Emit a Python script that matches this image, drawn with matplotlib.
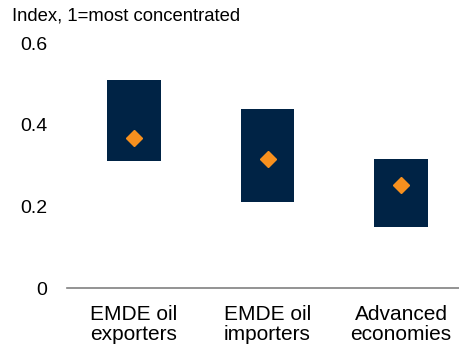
import matplotlib.pyplot as plt
import numpy as np

plt.rcParams['font.family'] = ['Liberation Sans', 'DejaVu Sans']

categories = ['EMDE oil\nexporters', 'EMDE oil\nimporters', 'Advanced\neconomies']
range_low = [0.313, 0.211, 0.150]
range_high = [0.510, 0.440, 0.316]
median = [0.367, 0.317, 0.253]

x = np.arange(len(categories))
low = np.array(range_low)
high = np.array(range_high)

fig = plt.figure(figsize=(4.59, 3.48), dpi=100)
ax = fig.add_axes([0.146, 0.171, 0.854, 0.705])

ax.bar(x, high - low, bottom=low, width=0.4, color='#002345', zorder=2)
ax.plot(x, median, linestyle='none', marker='D', markersize=8,
        color='#F7901E', zorder=3)

ax.set_xlim(-0.502, 2.434)
ax.set_ylim(0, 0.6)
ax.set_yticks([0, 0.2, 0.4, 0.6])
ax.set_yticklabels(['0', '0.2', '0.4', '0.6'])
ax.set_xticks(x)
ax.set_xticklabels(categories, linespacing=1.05)
ax.tick_params(axis='both', length=0, colors='black')
ax.tick_params(axis='y', pad=14, labelsize=14)
ax.tick_params(axis='x', pad=12, labelsize=15)

for side in ['top', 'right', 'left']:
    ax.spines[side].set_visible(False)
ax.spines['bottom'].set_color('#808080')
ax.spines['bottom'].set_linewidth(1.2)

fig.text(0.026, 0.955, 'Index, 1=most concentrated', fontsize=13.3, va='center')

fig.savefig('out.png', dpi=100)
